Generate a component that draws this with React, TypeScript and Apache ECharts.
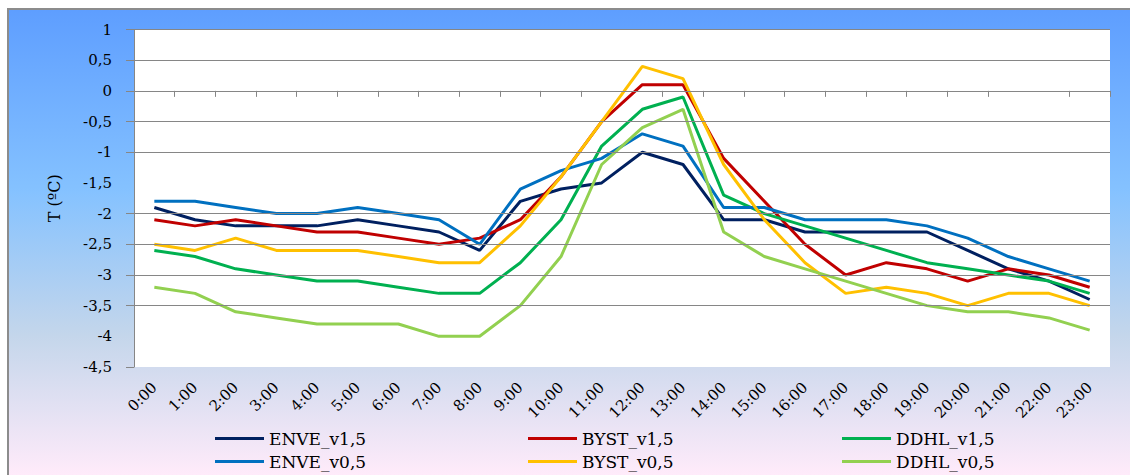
import React, { useEffect, useRef } from 'react';
import * as echarts from 'echarts';

const hours = ['0:00', '1:00', '2:00', '3:00', '4:00', '5:00', '6:00', '7:00', '8:00', '9:00', '10:00', '11:00',
  '12:00', '13:00', '14:00', '15:00', '16:00', '17:00', '18:00', '19:00', '20:00', '21:00', '22:00', '23:00'];

const enveV15 = [-1.9, -2.1, -2.2, -2.2, -2.2, -2.1, -2.2, -2.3, -2.6, -1.8, -1.6, -1.5, -1.0, -1.2, -2.1, -2.1, -2.3, -2.3, -2.3, -2.3, -2.6, -2.9, -3.1, -3.4];
const bystV15 = [-2.1, -2.2, -2.1, -2.2, -2.3, -2.3, -2.4, -2.5, -2.4, -2.1, -1.4, -0.5, 0.1, 0.1, -1.1, -1.8, -2.5, -3.0, -2.8, -2.9, -3.1, -2.9, -3.0, -3.2];
const ddhlV15 = [-2.6, -2.7, -2.9, -3.0, -3.1, -3.1, -3.2, -3.3, -3.3, -2.8, -2.1, -0.9, -0.3, -0.1, -1.7, -2.0, -2.2, -2.4, -2.6, -2.8, -2.9, -3.0, -3.1, -3.3];
const enveV05 = [-1.8, -1.8, -1.9, -2.0, -2.0, -1.9, -2.0, -2.1, -2.5, -1.6, -1.3, -1.1, -0.7, -0.9, -1.9, -1.9, -2.1, -2.1, -2.1, -2.2, -2.4, -2.7, -2.9, -3.1];
const bystV05 = [-2.5, -2.6, -2.4, -2.6, -2.6, -2.6, -2.7, -2.8, -2.8, -2.2, -1.4, -0.5, 0.4, 0.2, -1.2, -2.1, -2.8, -3.3, -3.2, -3.3, -3.5, -3.3, -3.3, -3.5];
const ddhlV05 = [-3.2, -3.3, -3.6, -3.7, -3.8, -3.8, -3.8, -4.0, -4.0, -3.5, -2.7, -1.2, -0.6, -0.3, -2.3, -2.7, -2.9, -3.1, -3.3, -3.5, -3.6, -3.6, -3.7, -3.9];

const seriesNames = ['ENVE_v1,5', 'BYST_v1,5', 'DDHL_v1,5', 'ENVE_v0,5', 'BYST_v0,5', 'DDHL_v0,5'];
const seriesData = [enveV15, bystV15, ddhlV15, enveV05, bystV05, ddhlV05];
const seriesColors = ['#002060', '#c00000', '#00b050', '#0070c0', '#ffc000', '#92d050'];

const yMin = -4.5;
const yMax = 1;
const yStep = 0.5;
const yTickValues = [1, 0.5, 0, -0.5, -1, -2, -2.5, -3, -3.5, -4.5];
const gridLineValues = [1, 0.5, 0, -0.5, -1, -2, -2.5, -3, -3.5];
const skippedXTicks = [12, 22];
const yAxisName = 'T (ºC)';

const FONT = 'DejaVu Serif';

export default function App() {
  const ref = useRef<HTMLDivElement>(null);

  useEffect(() => {
    if (!ref.current) return;
    const chart = echarts.init(ref.current, null, { renderer: 'svg' });

    const legendCols = [206, 519, 833];
    const legendRows = [420, 443];

    const gridSeries = {
      name: '__grid',
      type: 'line',
      data: [],
      z: 1,
      silent: true,
      markLine: {
        silent: true,
        symbol: ['none', 'none'],
        label: { show: false },
        emphasis: { disabled: true },
        lineStyle: { color: '#868686', width: 1, type: 'solid' },
        data: gridLineValues.map((v) => ({ yAxis: v })),
      },
    };

    const option: any = {
      animation: false,
      backgroundColor: new echarts.graphic.LinearGradient(0, 0, 0, 1, [
        { offset: 0, color: '#5e9eff' },
        { offset: 0.39, color: '#85c2ff' },
        { offset: 0.7, color: '#c4d6eb' },
        { offset: 1, color: '#ffebfa' },
      ]),
      grid: {
        left: 125,
        top: 19.5,
        right: 20,
        bottom: 108,
        show: true,
        backgroundColor: '#ffffff',
        borderWidth: 0,
        containLabel: false,
      },
      legend: seriesNames.map((name, i) => ({
        data: [name],
        left: legendCols[i % 3],
        top: legendRows[Math.floor(i / 3)],
        padding: 0,
        icon: 'rect',
        itemWidth: 49,
        itemHeight: 3,
        selectedMode: false,
        textStyle: { fontFamily: FONT, fontSize: 17, color: '#000' },
      })),
      xAxis: {
        type: 'category',
        data: hours,
        boundaryGap: true,
        axisLine: { show: true, lineStyle: { color: '#868686', width: 1 } },
        axisTick: {
          show: true,
          length: 6,
          lineStyle: { color: '#868686' },
          interval: (index: number) => !skippedXTicks.includes(index),
        },
        axisLabel: {
          interval: 0,
          rotate: 45,
          margin: 18,
          fontFamily: FONT,
          fontSize: 15,
          color: '#000',
        },
        splitLine: { show: false },
      },
      yAxis: {
        type: 'value',
        min: yMin,
        max: yMax,
        interval: yStep,
        name: yAxisName,
        nameLocation: 'middle',
        nameRotate: 90,
        nameGap: 72,
        nameTextStyle: { fontFamily: FONT, fontSize: 16, color: '#000' },
        axisLine: { show: true, lineStyle: { color: '#868686', width: 1 } },
        axisTick: {
          show: true,
          length: 8,
          lineStyle: { color: '#868686' },
          customValues: yTickValues,
        },
        axisLabel: {
          margin: 22,
          fontFamily: FONT,
          fontSize: 15,
          color: '#000',
          formatter: (v: number) => String(Math.round(v * 10) / 10).replace('.', ','),
        },
        splitLine: { show: false },
      },
      series: [
        gridSeries,
        ...seriesNames.map((name, i) => ({
          name,
          type: 'line',
          data: seriesData[i],
          symbol: 'none',
          showSymbol: false,
          smooth: false,
          z: 3,
          color: seriesColors[i],
          lineStyle: { color: seriesColors[i], width: 3 },
        })),
      ],
    };

    chart.setOption(option);
    return () => chart.dispose();
  }, []);

  return (
    <div
      style={{
        position: 'absolute',
        left: 7,
        top: 8,
        borderLeft: '2px solid #8c8c8c',
        borderTop: '2px solid #8c8c8c',
      }}
    >
      <div ref={ref} style={{ width: 1121, height: 465 }} />
    </div>
  );
}
